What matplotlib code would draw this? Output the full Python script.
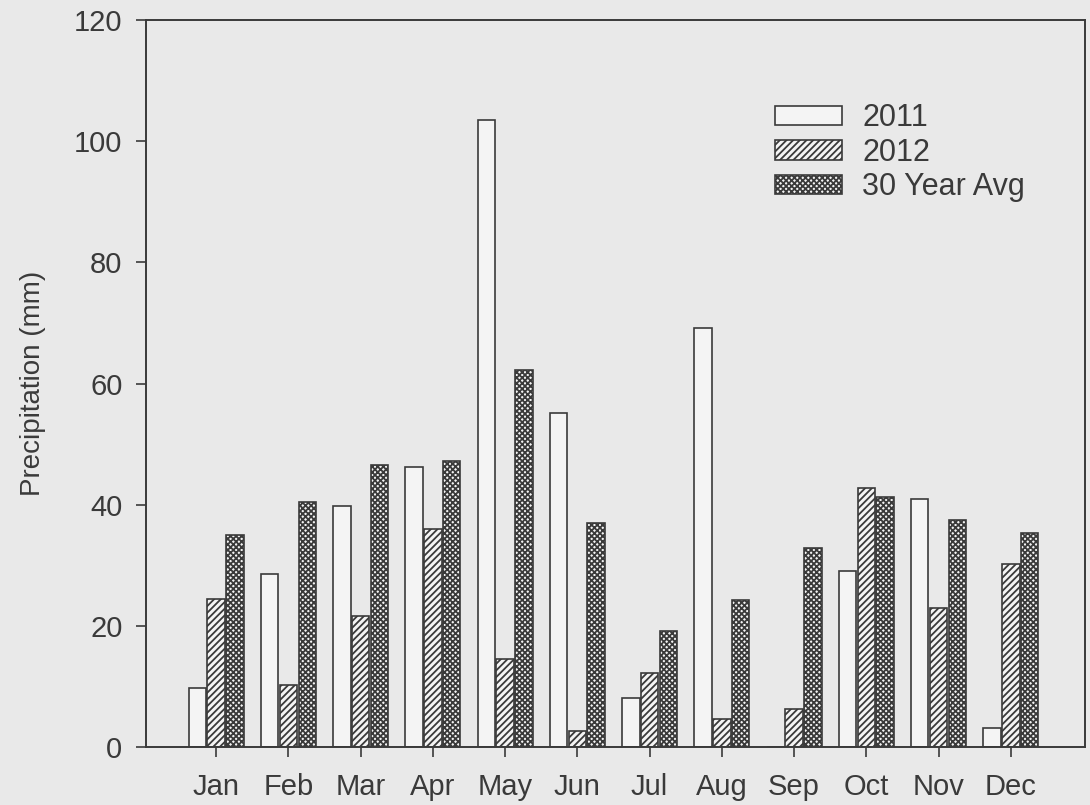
import numpy as np
import matplotlib.pyplot as plt

plt.rcParams['font.family'] = ['Liberation Sans', 'DejaVu Sans']
plt.rcParams['hatch.linewidth'] = 1.3

months = ['Jan', 'Feb', 'Mar', 'Apr', 'May', 'Jun',
          'Jul', 'Aug', 'Sep', 'Oct', 'Nov', 'Dec']
p2011 = [9.8, 28.6, 39.8, 46.3, 103.5, 55.2, 8.1, 69.1, 0.0, 29.0, 41.0, 3.1]
p2012 = [24.5, 10.2, 21.6, 36.0, 14.5, 2.6, 12.2, 4.6, 6.3, 42.8, 23.0, 30.2]
avg30 = [35.0, 40.5, 46.5, 47.3, 62.3, 37.0, 19.2, 24.2, 32.8, 41.2, 37.4, 35.3]

bg = '#e9e9e9'
ink = '#3a3a3a'

fig = plt.figure(figsize=(10.9, 8.05), dpi=100, facecolor=bg)
ax = fig.add_axes([0.134, 0.072, 0.861, 0.903], facecolor=bg)

x = np.arange(len(months))
w = 0.24
step = 0.26
ax.bar(x - step, p2011, w, color='#f4f4f4', edgecolor=ink, linewidth=1.2, label='2011')
ax.bar(x, p2012, w, color='#f4f4f4', edgecolor=ink, linewidth=1.2, hatch='/////', label='2012')
ax.bar(x + step, avg30, w, color='#f4f4f4', edgecolor=ink, linewidth=1.2, hatch='xxxxxx', label='30 Year Avg')

ax.set_xlim(-0.97, 12.02)
ax.set_ylim(0, 120)
ax.set_xticks(x)
ax.set_xticklabels(months)
ax.set_yticks(np.arange(0, 121, 20))
ax.tick_params(axis='both', direction='out', length=7, width=1.2, colors=ink,
               labelsize=21, labelcolor=ink)
ax.tick_params(axis='x', pad=12)
ax.tick_params(axis='y', pad=10)
for s in ax.spines.values():
    s.set_color(ink)
    s.set_linewidth(1.4)

ax.set_ylabel('Precipitation (mm)', fontsize=20, color=ink, labelpad=20)

ax.legend(loc='upper left', bbox_to_anchor=(0.654, 0.907), frameon=False,
          fontsize=22, handlelength=2.2, handleheight=0.6, borderpad=0,
          labelspacing=0.15, handletextpad=0.65, labelcolor=ink)

fig.savefig('out.png', dpi=100, facecolor=bg)
